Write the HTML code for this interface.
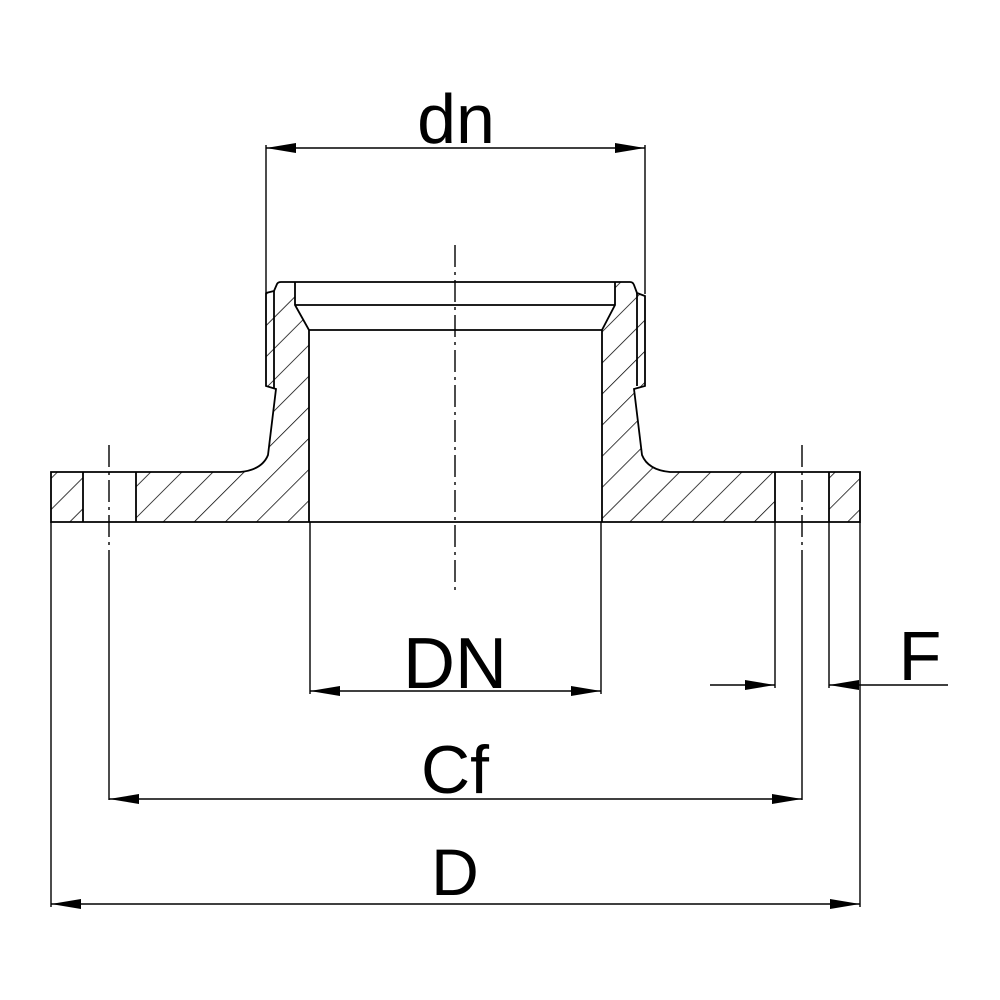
<!DOCTYPE html>
<html><head><meta charset="utf-8"><style>html,body{margin:0;padding:0;background:#fff}svg{display:block}</style></head>
<body>
<svg width="1000" height="1000" viewBox="0 0 1000 1000" xmlns="http://www.w3.org/2000/svg">
<defs>
<pattern id="h" patternUnits="userSpaceOnUse" width="22" height="22" patternTransform="rotate(45)">
<line x1="0" y1="0" x2="0" y2="22" stroke="#000" stroke-width="1.5"/>
</pattern>
<marker id="a" viewBox="0 0 30 10" refX="30" refY="5" markerWidth="30" markerHeight="10" markerUnits="userSpaceOnUse" orient="auto-start-reverse">
<path d="M0,0 L30,5 L0,10 z" fill="#000"/>
</marker>
</defs>
<g fill="url(#h)" stroke="none">
<rect x="51" y="472" width="32" height="50"/>
<path d="M136,522 L136,472 L240,472 Q262,470 268,455 L276,389 L266,386 L266,293 L274,291 L277,282 L295,282 L295,305 L309,330 L309,522 Z"/>
<rect x="829" y="472" width="31" height="50"/>
<path d="M775,522 L775,472 L670,472 Q648,470 642,455 L634,389 L645,386 L645,296 L637,293 L633,282 L615,282 L615,305 L602,330 L602,522 Z"/>
</g>
<g fill="none" stroke="#000" stroke-width="1.8">
<path d="M51,472 L240,472 Q262,470 268,455 L276,389 L266,386 L266,293 L274,291 L277,284 Q278,282 281,282 L630,282 Q633,282 634,285 L637,293 L645,296 L645,386 L634,389 L642,455 Q648,470 670,472 L860,472 L860,522 L51,522 Z"/>
<line x1="83" y1="472" x2="83" y2="522"/>
<line x1="136" y1="472" x2="136" y2="522"/>
<line x1="775" y1="472" x2="775" y2="522"/>
<line x1="829" y1="472" x2="829" y2="522"/>
<line x1="274" y1="291" x2="274" y2="388"/>
<line x1="637" y1="293" x2="637" y2="386"/>
<path d="M295,282 L295,305 L309,330 L309,522"/>
<path d="M615,282 L615,305 L602,330 L602,522"/>
<line x1="295" y1="305" x2="615" y2="305"/>
<line x1="309" y1="330" x2="602" y2="330"/>
</g>
<g stroke="#000" stroke-width="1.4" fill="none">
<line x1="455" y1="245" x2="455" y2="590" stroke-dasharray="22,5,3,5"/>
<line x1="109" y1="445" x2="109" y2="550" stroke-dasharray="22,5,3,5"/>
<line x1="802" y1="445" x2="802" y2="550" stroke-dasharray="22,5,3,5"/>
<line x1="109" y1="550" x2="109" y2="800"/>
<line x1="802" y1="550" x2="802" y2="800"/>
<line x1="266" y1="145" x2="266" y2="292"/>
<line x1="645" y1="145" x2="645" y2="294"/>
<line x1="310" y1="522" x2="310" y2="694"/>
<line x1="601" y1="522" x2="601" y2="694"/>
<line x1="775" y1="522" x2="775" y2="688"/>
<line x1="829" y1="522" x2="829" y2="688"/>
<line x1="51" y1="522" x2="51" y2="907"/>
<line x1="860" y1="522" x2="860" y2="907"/>
<line x1="266" y1="148" x2="645" y2="148" marker-start="url(#a)" marker-end="url(#a)"/>
<line x1="310" y1="691" x2="601" y2="691" marker-start="url(#a)" marker-end="url(#a)"/>
<line x1="109" y1="799" x2="802" y2="799" marker-start="url(#a)" marker-end="url(#a)"/>
<line x1="51" y1="904" x2="860" y2="904" marker-start="url(#a)" marker-end="url(#a)"/>
<line x1="710" y1="685" x2="775" y2="685" marker-end="url(#a)"/>
<line x1="948" y1="685" x2="829" y2="685" marker-end="url(#a)"/>
</g>
<g font-family="Liberation Sans, sans-serif" fill="#000" text-anchor="middle">
<text x="456" y="143" font-size="70">dn</text>
<text x="455" y="688" font-size="72">DN</text>
<text x="455" y="793" font-size="68">Cf</text>
<text x="455" y="895" font-size="66">D</text>
<text x="920" y="680" font-size="70">F</text>
</g>
</svg>
</body></html>
